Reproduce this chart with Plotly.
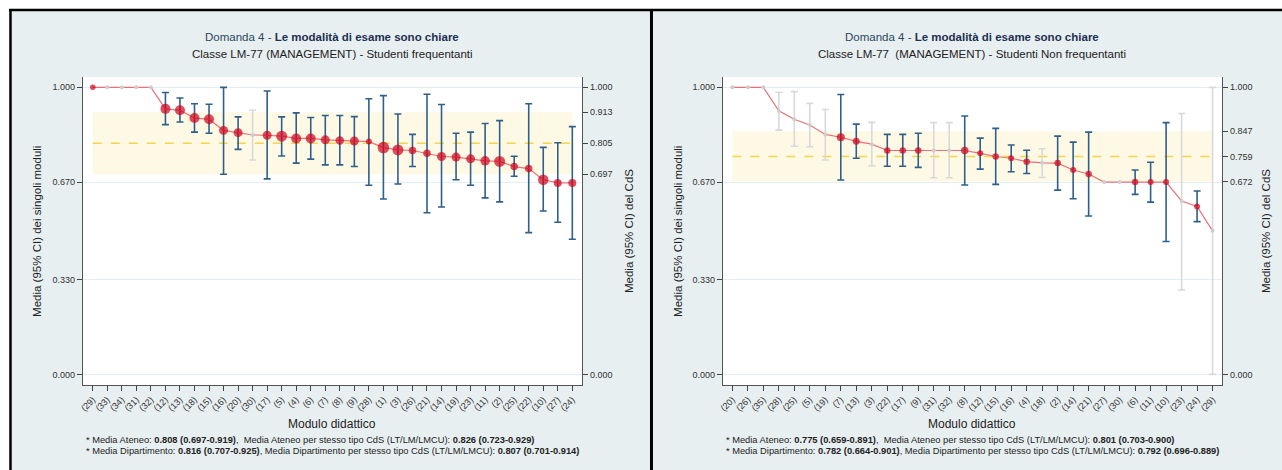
import plotly.graph_objects as go

# ---------------- DATA ----------------
labels_L = ["(29)","(33)","(34)","(31)","(32)","(12)","(13)","(18)","(15)","(16)","(20)","(30)",
            "(17)","(5)","(4)","(6)","(7)","(8)","(9)","(28)","(1)","(3)","(26)","(21)","(14)",
            "(19)","(23)","(11)","(2)","(25)","(22)","(10)","(27)","(24)"]
mean_L = [1.0,1.0,1.0,1.0,1.0,0.925,0.920,0.893,0.889,0.850,0.842,0.834,0.833,0.830,0.822,0.822,
          0.817,0.815,0.813,0.811,0.790,0.782,0.780,0.770,0.759,0.757,0.751,0.744,0.742,0.724,
          0.717,0.678,0.667,0.667]
lo_L = [1.0,1.0,1.0,1.0,1.0,0.870,0.879,0.844,0.840,0.697,0.784,0.747,0.681,0.761,0.736,0.750,
        0.730,0.730,0.724,0.659,0.611,0.663,0.724,0.563,0.583,0.678,0.659,0.615,0.601,0.690,
        0.494,0.569,0.530,0.471]
hi_L = [1.0,1.0,1.0,1.0,1.0,0.982,0.963,0.943,0.941,1.0,0.897,0.920,0.987,0.897,0.911,0.895,
        0.902,0.902,0.898,0.960,0.971,0.907,0.836,0.976,0.940,0.840,0.844,0.874,0.884,0.760,
        0.943,0.791,0.807,0.863]
n_L = [5.5,4,4,4,4,10,10,10,10,9,9,4,9,11,10,10,9,8.5,9,6,11.5,11,7.5,7.5,9,9,9,9.5,11,7.5,7.5,10.5,8,8]
valid_L = [1,0,0,0,0,1,1,1,1,1,1,0,1,1,1,1,1,1,1,1,1,1,1,1,1,1,1,1,1,1,1,1,1,1]
cds_L = dict(mean=0.805, lo=0.697, hi=0.913)

labels_R = ["(20)","(26)","(35)","(28)","(25)","(5)","(19)","(7)","(13)","(3)","(22)","(17)",
            "(9)","(31)","(32)","(8)","(12)","(15)","(16)","(4)","(18)","(2)","(14)","(21)",
            "(27)","(30)","(6)","(11)","(10)","(23)","(24)","(29)"]
mean_R = [1.0,1.0,1.0,0.918,0.889,0.869,0.836,0.826,0.812,0.802,0.780,0.780,0.780,0.780,0.780,
          0.780,0.770,0.759,0.753,0.741,0.737,0.736,0.712,0.698,0.670,0.670,0.670,0.670,0.670,
          0.604,0.585,0.500]
lo_R = [1.0,1.0,1.0,0.851,0.795,0.793,0.747,0.677,0.753,0.727,0.725,0.725,0.721,0.685,0.685,
        0.660,0.715,0.662,0.706,0.700,0.686,0.642,0.612,0.552,0.670,0.670,0.627,0.600,0.463,
        0.294,0.532,0.0]
hi_R = [1.0,1.0,1.0,0.983,0.985,0.944,0.923,0.975,0.872,0.878,0.836,0.836,0.840,0.877,0.877,
        0.900,0.823,0.857,0.799,0.781,0.786,0.830,0.809,0.844,0.670,0.670,0.712,0.739,0.877,
        0.909,0.639,1.0]
n_R = [4,4,4,4,4,4,4,8,7,4,6.5,6.5,6.5,4,4,7.5,6,6.5,6,6.5,4,6.5,6,6.5,4,4,6.5,6,6,4,6,4]
valid_R = [0,0,0,0,0,0,0,1,1,0,1,1,1,0,0,1,1,1,1,1,0,1,1,1,0,0,1,1,1,0,1,0]
cds_R = dict(mean=0.759, lo=0.672, hi=0.847)

left_ticks = [0.0, 0.33, 0.67, 1.0]
notes_L = ["* Media Ateneo: <b>0.808 (0.697-0.919)</b>,  Media Ateneo per stesso tipo CdS (LT/LM/LMCU): <b>0.826 (0.723-0.929)</b>",
           "* Media Dipartimento: <b>0.816 (0.707-0.925)</b>, Media Dipartimento per stesso tipo CdS (LT/LM/LMCU): <b>0.807 (0.701-0.914)</b>"]
notes_R = ["* Media Ateneo: <b>0.775 (0.659-0.891)</b>,  Media Ateneo per stesso tipo CdS (LT/LM/LMCU): <b>0.801 (0.703-0.900)</b>",
           "* Media Dipartimento: <b>0.782 (0.664-0.901)</b>, Media Dipartimento per stesso tipo CdS (LT/LM/LMCU): <b>0.792 (0.696-0.889)</b>"]
subtitle_L = "Classe LM-77 (MANAGEMENT) - Studenti frequentanti"
subtitle_R = "Classe LM-77  (MANAGEMENT) - Studenti Non frequentanti"

# ---------------- STYLE ----------------
W, H = 1282, 470
FONT = "Liberation Sans, Arial, Helvetica, sans-serif"
BG = "#e8eff1"
BLUE = "#2f5f8a"
GREYCI = "#d9d9d9"
RED = "#d0001a"
LINE = "#e8707c"

def px(x): return x / W
def py(y): return 1 - y / H

Y0, Y1 = 385, 77
yrange = [-0.037, 1.036]

fig = go.Figure()

panels = [
    dict(lab=labels_L, m=mean_L, lo=lo_L, hi=hi_L, n=n_L, v=valid_L, cds=cds_L,
         xa="x", ya="y", ya2="y2", xl=79, xr=580, xrng=[-0.69, 33.68], notes=notes_L,
         sub=subtitle_L, bg=(6, 649), ytl=33, ytr=627),
    dict(lab=labels_R, m=mean_R, lo=lo_R, hi=hi_R, n=n_R, v=valid_R, cds=cds_R,
         xa="x2", ya="y3", ya2="y4", xl=721, xr=1222, xrng=[-0.62, 31.62], notes=notes_R,
         sub=subtitle_R, bg=(649, 1290), ytl=676, ytr=1266),
]

shapes = []
annotations = []
layout_axes = {}

def ann(x, y, text, size, color="#222", **kw):
    d = dict(x=px(x), y=py(y), xref="paper", yref="paper", showarrow=False, text=text,
             xanchor="center", yanchor="middle", font=dict(family=FONT, size=size, color=color))
    d.update(kw)
    return d

for k, P in enumerate(panels):
    N = len(P["lab"])
    xs = list(range(N))
    has_ci = [(P["hi"][i] - P["lo"][i]) > 1e-9 for i in xs]
    for flag, col in [(1, BLUE), (0, GREYCI)]:
        idx = [i for i in xs if P["v"][i] == flag and has_ci[i]]
        fig.add_trace(go.Scatter(
            x=idx, y=[P["m"][i] for i in idx], mode="markers",
            marker=dict(size=1, color="rgba(0,0,0,0)"),
            error_y=dict(type="data", symmetric=False,
                         array=[P["hi"][i] - P["m"][i] for i in idx],
                         arrayminus=[P["m"][i] - P["lo"][i] for i in idx],
                         color=col, thickness=1.6, width=3.5),
            xaxis=P["xa"], yaxis=P["ya"], showlegend=False, hoverinfo="skip"))
    fig.add_trace(go.Scatter(x=xs, y=P["m"], mode="lines", line=dict(color=LINE, width=1.2),
                             xaxis=P["xa"], yaxis=P["ya"], showlegend=False, hoverinfo="skip"))
    gi = [i for i in xs if P["v"][i] == 0]
    fig.add_trace(go.Scatter(x=gi, y=[P["m"][i] for i in gi], mode="markers",
                             marker=dict(size=4, color="#cdcdcd"),
                             xaxis=P["xa"], yaxis=P["ya"], showlegend=False, hoverinfo="skip"))
    ri = [i for i in xs if P["v"][i] == 1]
    fig.add_trace(go.Scatter(x=ri, y=[P["m"][i] for i in ri], mode="markers",
                             marker=dict(size=[P["n"][i] for i in ri], color=RED, line=dict(width=0)),
                             xaxis=P["xa"], yaxis=P["ya"], showlegend=False, hoverinfo="skip"))
    # invisible trace so the right-hand CdS axis is drawn
    fig.add_trace(go.Scatter(x=[0], y=[P["cds"]["mean"]], mode="markers",
                             marker=dict(size=1, color="rgba(0,0,0,0)"),
                             xaxis=P["xa"], yaxis=P["ya2"], showlegend=False, hoverinfo="skip"))

    shapes.append(dict(type="rect", xref=P["xa"], yref=P["ya"], x0=0, x1=N - 1,
                       y0=P["cds"]["lo"], y1=P["cds"]["hi"], fillcolor="#fdf9e4",
                       line=dict(width=0), layer="below"))
    shapes.append(dict(type="line", xref=P["xa"], yref=P["ya"], x0=0, x1=N - 1,
                       y0=P["cds"]["mean"], y1=P["cds"]["mean"],
                       line=dict(color="#f3d64e", width=1.6, dash="dash"), layer="below"))

    shapes.insert(0, dict(type="rect", xref="paper", yref="paper", x0=px(P["xl"]), x1=px(P["xr"]),
                          y0=py(Y0), y1=py(Y1), fillcolor="white", line=dict(width=0), layer="below"))
    shapes.insert(0, dict(type="rect", xref="paper", yref="paper", x0=px(P["bg"][0]), x1=px(P["bg"][1]),
                          y0=py(H + 5), y1=py(10), fillcolor=BG, line=dict(width=0), layer="below"))

    xname = "xaxis" if k == 0 else "xaxis2"
    yname = "yaxis" if k == 0 else "yaxis3"
    y2name = "yaxis2" if k == 0 else "yaxis4"
    tf = dict(family=FONT, size=9, color="#333")
    layout_axes[xname] = dict(domain=[px(P["xl"]), px(P["xr"])], range=P["xrng"],
                              tickvals=xs, ticktext=P["lab"], tickangle=-45,
                              ticks="outside", ticklen=5, tickcolor="#444", showline=True,
                              linecolor="#555", linewidth=1, showgrid=False, zeroline=False,
                              anchor=P["ya"], tickfont=tf)
    layout_axes[yname] = dict(domain=[py(Y0), py(Y1)], range=yrange, tickvals=left_ticks,
                              ticktext=["%.3f" % t for t in left_ticks], ticks="outside", ticklen=5,
                              tickcolor="#444", showline=True, linecolor="#555", linewidth=1,
                              showgrid=True, gridcolor="#e4edf0", gridwidth=1, zeroline=False,
                              anchor=P["xa"], tickfont=tf)
    rt = [1.0, P["cds"]["hi"], P["cds"]["mean"], P["cds"]["lo"], 0.0]
    layout_axes[y2name] = dict(overlaying=P["ya"], side="right", anchor=P["xa"], range=yrange,
                               tickvals=rt, ticktext=["%.3f" % t for t in rt], ticks="outside",
                               ticklen=5, tickcolor="#444", showline=True, linecolor="#555",
                               linewidth=1, showgrid=False, zeroline=False, tickfont=tf)

    cx = (P["xl"] + P["xr"]) / 2
    annotations += [
        ann(cx, 37, "<span style='color:#2c4660'>Domanda 4 - </span><b>Le modalità di esame sono chiare</b>",
            11.5, "#1e2f52"),
        ann(cx, 54, P["sub"], 11.5),
        ann(cx, 424, "Modulo didattico", 12),
        ann(P["ytl"], 231, "Media (95% CI) dei singoli moduli", 11.5, textangle=-90),
        ann(P["ytr"], 231, "Media (95% CI) del CdS", 11.5, textangle=-90),
        ann(P["xl"] + 1, 440, P["notes"][0], 9.3, xanchor="left"),
        ann(P["xl"] + 1, 451, P["notes"][1], 9.3, xanchor="left"),
    ]

shapes += [
    dict(type="line", xref="paper", yref="paper", x0=px(5), x1=px(1290), y0=py(10), y1=py(10),
         line=dict(color="black", width=2.5)),
    dict(type="line", xref="paper", yref="paper", x0=px(6.5), x1=px(6.5), y0=py(9), y1=py(480),
         line=dict(color="black", width=2.5)),
    dict(type="line", xref="paper", yref="paper", x0=px(649.5), x1=px(649.5), y0=py(9), y1=py(480),
         line=dict(color="black", width=3)),
]

fig.update_layout(width=W, height=H, margin=dict(l=0, r=0, t=0, b=0),
                  paper_bgcolor="white", plot_bgcolor="rgba(0,0,0,0)",
                  shapes=shapes, annotations=annotations, showlegend=False,
                  font=dict(family=FONT), **layout_axes)

fig.write_html("out.html", config={"displayModeBar": False},
               post_script="document.body.style.margin='0';document.body.style.overflow='hidden';")
